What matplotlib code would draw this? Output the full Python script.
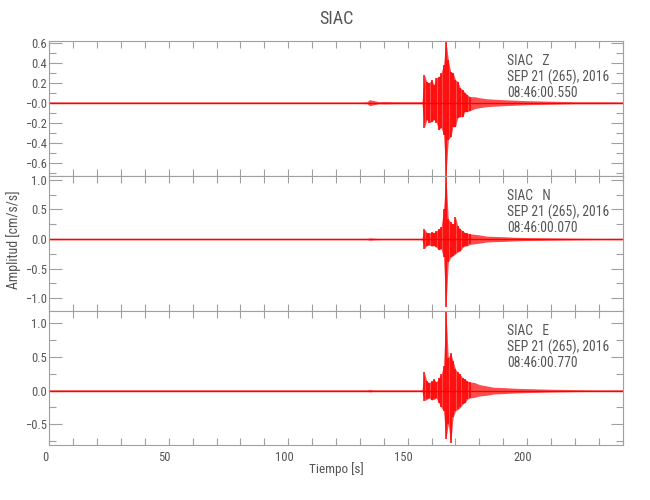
import numpy as np
import matplotlib
matplotlib.use("Agg")
import matplotlib.pyplot as plt
from matplotlib.ticker import MultipleLocator
import matplotlib.transforms as mtransforms
from matplotlib import font_manager

# fuente estrecha si existe
nombres = {f.name for f in font_manager.fontManager.ttflist}
familias = [f for f in ['Roboto Condensed', 'Liberation Sans Narrow', 'DejaVu Sans Condensed',
                        'Roboto', 'DejaVu Sans'] if f in nombres]
plt.rcParams['font.family'] = familias

# ===== datos (envolvente por muestra) =====
estacion = "SIAC"
componentes = ["Z", "N", "E"]
fecha = "SEP 21 (265), 2016"
horas = ["08:46:00.550", "08:46:00.070", "08:46:00.770"]

tiempo = [0, 10, 20, 30, 40, 50, 60, 70, 80, 90, 100, 110, 120, 130,
          133, 134, 135, 136, 138, 140, 145, 150, 155, 156,
          157, 158, 159, 160, 161, 162, 163, 164, 165, 166,
          167, 168, 169, 170, 171, 172, 173, 174, 175, 176,
          178, 180, 183, 186, 190, 195, 200, 210, 220, 230, 240]

z_alto = [0.008] * 14 + [0.01, 0.03, 0.025, 0.02, 0.01, 0.012,
          0.01, 0.01, 0.01, 0.012,
          0.28, 0.21, 0.20, 0.23, 0.18, 0.25, 0.26, 0.30, 0.38, 0.62,
          0.43, 0.31, 0.30, 0.23, 0.21, 0.15, 0.13, 0.10, 0.08, 0.06,
          0.06, 0.05, 0.04, 0.035, 0.03, 0.025, 0.02, 0.015, 0.01, 0.01, 0.008]
z_bajo = [-0.008] * 14 + [-0.01, -0.03, -0.025, -0.02, -0.01, -0.012,
          -0.01, -0.01, -0.01, -0.012,
          -0.25, -0.17, -0.20, -0.19, -0.17, -0.20, -0.27, -0.25, -0.32, -0.73,
          -0.37, -0.34, -0.24, -0.24, -0.15, -0.14, -0.14, -0.09, -0.09, -0.08,
          -0.06, -0.05, -0.04, -0.035, -0.03, -0.025, -0.02, -0.015, -0.01, -0.01, -0.008]

n_alto = [0.012] * 14 + [0.012, 0.02, 0.018, 0.015, 0.012, 0.012,
          0.012, 0.012, 0.012, 0.015,
          0.17, 0.11, 0.10, 0.12, 0.11, 0.14, 0.17, 0.20, 0.50, 1.07,
          0.34, 0.28, 0.25, 0.37, 0.22, 0.17, 0.14, 0.11, 0.10, 0.09,
          0.08, 0.07, 0.05, 0.045, 0.04, 0.03, 0.025, 0.02, 0.015, 0.012, 0.012]
n_bajo = [-0.012] * 14 + [-0.012, -0.02, -0.018, -0.015, -0.012, -0.012,
          -0.012, -0.012, -0.012, -0.015,
          -0.16, -0.11, -0.10, -0.12, -0.11, -0.14, -0.18, -0.17, -0.31, -1.15,
          -0.39, -0.31, -0.28, -0.25, -0.22, -0.20, -0.14, -0.12, -0.11, -0.09,
          -0.08, -0.07, -0.05, -0.045, -0.04, -0.03, -0.025, -0.02, -0.015, -0.012, -0.012]

e_alto = [0.012] * 14 + [0.012, 0.018, 0.015, 0.012, 0.012, 0.012,
          0.012, 0.012, 0.012, 0.015,
          0.27, 0.14, 0.12, 0.14, 0.17, 0.13, 0.19, 0.24, 0.37, 1.19,
          0.49, 0.56, 0.44, 0.32, 0.27, 0.24, 0.19, 0.17, 0.14, 0.13,
          0.12, 0.09, 0.07, 0.05, 0.045, 0.035, 0.03, 0.02, 0.015, 0.012, 0.012]
e_bajo = [-0.012] * 14 + [-0.012, -0.018, -0.015, -0.012, -0.012, -0.012,
          -0.012, -0.012, -0.012, -0.015,
          -0.15, -0.13, -0.11, -0.14, -0.13, -0.11, -0.18, -0.25, -0.30, -0.72,
          -0.50, -0.78, -0.40, -0.30, -0.28, -0.25, -0.20, -0.18, -0.13, -0.11,
          -0.10, -0.08, -0.07, -0.05, -0.045, -0.035, -0.03, -0.02, -0.015, -0.012, -0.012]

trazas = [(z_alto, z_bajo), (n_alto, n_bajo), (e_alto, e_bajo)]
limites_y = [(-0.73, 0.62), (-1.21, 1.07), (-0.81, 1.19)]
ticks_y = [[0.6, 0.4, 0.2, 0.0, -0.2, -0.4, -0.6],
           [1.0, 0.5, 0.0, -0.5, -1.0],
           [1.0, 0.5, 0.0, -0.5]]
etiquetas_y = [["0.6", "0.4", "0.2", "\u22120.0", "\u22120.2", "\u22120.4", "\u22120.6"],
               ["1.0", "0.5", "0.0", "\u22120.5", "\u22121.0"],
               ["1.0", "0.5", "0.0", "\u22120.5"]]
menores_y = [0.1, 0.25, 0.25]

GRIS = '#a0a0a0'
TEXTO = '#555555'
ROJO = '#ff0000'

fig = plt.figure(figsize=(6.5, 5.0), dpi=100)
izq, ancho = 49.3 / 650, (622.7 - 49.3) / 650
bordes = [40.7, 175.7, 310.7, 445.0]

t = np.asarray(tiempo, dtype=float)
densa = (t >= 157) & (t <= 176)

for i in range(3):
    arriba = 1 - bordes[i] / 500
    abajo = 1 - bordes[i + 1] / 500
    ax = fig.add_axes([izq, abajo, ancho, arriba - abajo])

    alto = np.asarray(trazas[i][0])
    bajo = np.asarray(trazas[i][1])
    # envolvente rosada + barras rojas en la fase fuerte
    ax.fill_between(t, bajo, alto, color=ROJO, alpha=0.7, lw=0)
    ax.vlines(t[densa], bajo[densa], alto[densa], color=ROJO, lw=1.1)
    ax.plot(t, np.zeros_like(t), color=ROJO, lw=1.0)

    ax.set_xlim(0, 240)
    ax.set_ylim(*limites_y[i])
    ax.set_yticks(ticks_y[i])
    ax.set_yticklabels(etiquetas_y[i])
    ax.yaxis.set_minor_locator(MultipleLocator(menores_y[i]))
    ax.xaxis.set_major_locator(MultipleLocator(50))
    ax.xaxis.set_minor_locator(MultipleLocator(10))

    for s in ax.spines.values():
        s.set_color(GRIS)
        s.set_linewidth(0.8)
    ax.tick_params(axis='both', which='both', direction='in', colors=GRIS,
                   labelcolor=TEXTO, labelsize=9, top=True, right=True, width=0.8)
    ax.tick_params(axis='y', which='major', length=9, pad=2)
    ax.tick_params(axis='y', which='minor', length=5)
    ax.tick_params(axis='x', which='both', length=5, pad=4)

    if i < 2:
        ax.tick_params(axis='x', labelbottom=False)
    else:
        off = mtransforms.ScaledTranslation(-4 / 100, 0, fig.dpi_scale_trans)
        for lab in ax.get_xticklabels():
            lab.set_transform(lab.get_transform() + off)

    ax.text(0.798, 0.90, f"{estacion}   {componentes[i]}\n{fecha}\n{horas[i]}",
            transform=ax.transAxes, ha='left', va='top', fontsize=9.8,
            color=TEXTO, linespacing=1.1)

fig.text(336 / 650, 1 - 19 / 500, estacion, ha='center', va='center',
         fontsize=13, color=TEXTO)
fig.text(336 / 650, 1 - 469 / 500, "Tiempo [s]", ha='center', va='center',
         fontsize=9.5, color=TEXTO)
fig.text(14 / 650, 1 - 240 / 500, "Amplitud [cm/s/s]", ha='center', va='center',
         rotation=90, fontsize=10, color=TEXTO)

fig.savefig("out.png", dpi=100)
